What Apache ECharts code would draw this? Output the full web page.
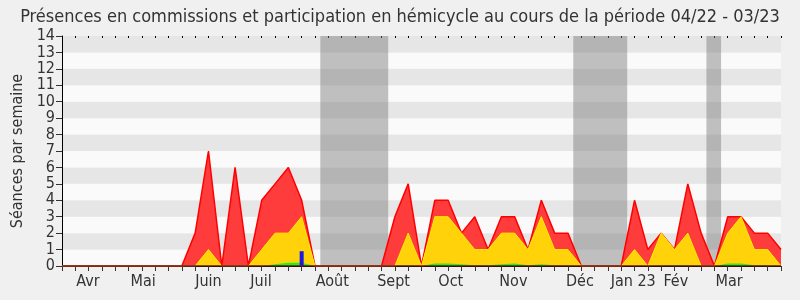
<!DOCTYPE html>
<html><head><meta charset="utf-8">
<script src="https://cdn.jsdelivr.net/npm/echarts@6/dist/echarts.min.js"></script>
<style>html,body{margin:0;padding:0;background:#f0f0f0}#c{width:800px;height:300px}</style>
</head><body><div id="c"></div>
<script>
// weekly index 0..54 (04/22 - 03/23)
const weeks = Array.from({length:55},(_,i)=>i);
const total = [0,0,0,0,0,0,0,0,0,0,2,7,0,6,0,4,5,6,4,0,0,0,0,0,0,3,5,0,4,4,2,3,1,3,3,1,4,2,2,0,0,0,0,4,1,2,1,5,2,0,3,3,2,2,1];
const commission = [0,0,0,0,0,0,0,0,0,0,0,1,0,0,0,1,2,2,3,0,0,0,0,0,0,0,2,0,3,3,2,1,1,2,2,1,3,1,1,0,0,0,0,1,0,2,1,2,0,0,2,3,1,1,0];
const other = [0,0,0,0,0,0,0,0,0,0,0,0,0,0,0,0,0.1,0.2,0.2,0,0,0,0,0,0,0,0.05,0,0.15,0.15,0.1,0.05,0.05,0.1,0.15,0.05,0.1,0.05,0.05,0,0,0,0,0,0,0.05,0.05,0.05,0,0,0.15,0.15,0.05,0.05,0];
const questions = [[18,0.9]];
const vacations = [[19.4,24.5],[38.4,42.45],[48.4,49.5]];
const monthLabels = ['Avr','Mai','Juin','Juil','Août','Sept','Oct','Nov','Déc','Jan 23','Fév','Mar'];
const monthPos = [1.95,6.1,11,14.95,20.3,24.9,29.2,33.9,38.9,42.9,46.1,50.1];
const yTicks = [0,1,2,3,4,5,6,7,8,9,10,11,12,13,14];

const FONT = 'DejaVu Sans Condensed, DejaVu Sans, sans-serif';
const pairs = arr => weeks.map((w,i)=>[w,arr[i]]);

const chart = echarts.init(document.getElementById('c'));
chart.setOption({
  backgroundColor:'#f0f0f0',
  animation:false,
  textStyle:{fontFamily:FONT},
  title:{text:'Présences en commissions et participation en hémicycle au cours de la période 04/22 - 03/23',
    left:'center', top:3, textStyle:{fontFamily:FONT,fontSize:18,fontWeight:'normal',color:'#333'}},
  grid:{left:62,right:19,top:36,bottom:34,containLabel:false,outerBoundsMode:'none'},
  xAxis:[
    {type:'value',min:0,max:54,interval:1,position:'bottom',
     axisLine:{show:true,onZero:false,lineStyle:{color:'#000'}},
     axisTick:{show:true,length:5,lineStyle:{color:'#333'}},
     axisLabel:{show:false},splitLine:{show:false}},
    {type:'value',min:0,max:54,position:'bottom',
     axisLine:{show:false},axisTick:{show:false},splitLine:{show:false},
     axisLabel:{show:true,customValues:monthPos,margin:8,fontFamily:FONT,fontSize:16,color:'#333',
       formatter:v=>{const i=monthPos.findIndex(p=>Math.abs(p-v)<1e-6);return i>=0?monthLabels[i]:'';}}},
    {type:'value',min:0,max:54,interval:1,position:'top',
     axisLine:{show:false},axisTick:{show:true,inside:true,length:2,lineStyle:{color:'#000'}},
     axisLabel:{show:false},splitLine:{show:false}}
  ],
  yAxis:{type:'value',min:0,max:14,interval:1,
    name:'Séances par semaine',nameLocation:'middle',nameGap:35,
    nameTextStyle:{fontFamily:FONT,fontSize:16,color:'#333'},
    axisLine:{show:true,lineStyle:{color:'#000'}},
    axisTick:{show:true,length:6,lineStyle:{color:'#333'}},
    axisLabel:{fontFamily:FONT,fontSize:16,color:'#333',margin:7,
      customValues:yTicks},
    splitLine:{show:false},
    splitArea:{show:true,areaStyle:{color:['#fafafa','#e6e6e6']}}},
  series:[
    {type:'line',name:'vac',xAxisIndex:0,data:[],silent:true,
     markArea:{silent:true,itemStyle:{color:'rgba(120,120,120,0.45)'},
       data:vacations.map(v=>[{xAxis:v[0]},{xAxis:v[1]}])}},
    {type:'line',name:'total',data:pairs(total),symbol:'none',z:3,
     lineStyle:{color:'#ff0000',width:1.5},areaStyle:{color:'#ff3c3c',opacity:1}},
    {type:'line',name:'commission',data:pairs(commission),symbol:'none',z:4,
     lineStyle:{color:'#ffee00',width:1},areaStyle:{color:'#ffd20a',opacity:1}},
    {type:'line',name:'other',data:pairs(other),symbol:'none',z:5,
     lineStyle:{width:0},areaStyle:{color:'#22ee22',opacity:1}},
    {type:'bar',name:'questions',data:questions,barWidth:4,z:6,itemStyle:{color:'#1a1ae6'}},
    {type:'line',name:'base',data:[[0,0],[54,0]],symbol:'none',z:7,silent:true,
     lineStyle:{color:'#6a1a1a',width:1.5}}
  ]
});
</script></body></html>
